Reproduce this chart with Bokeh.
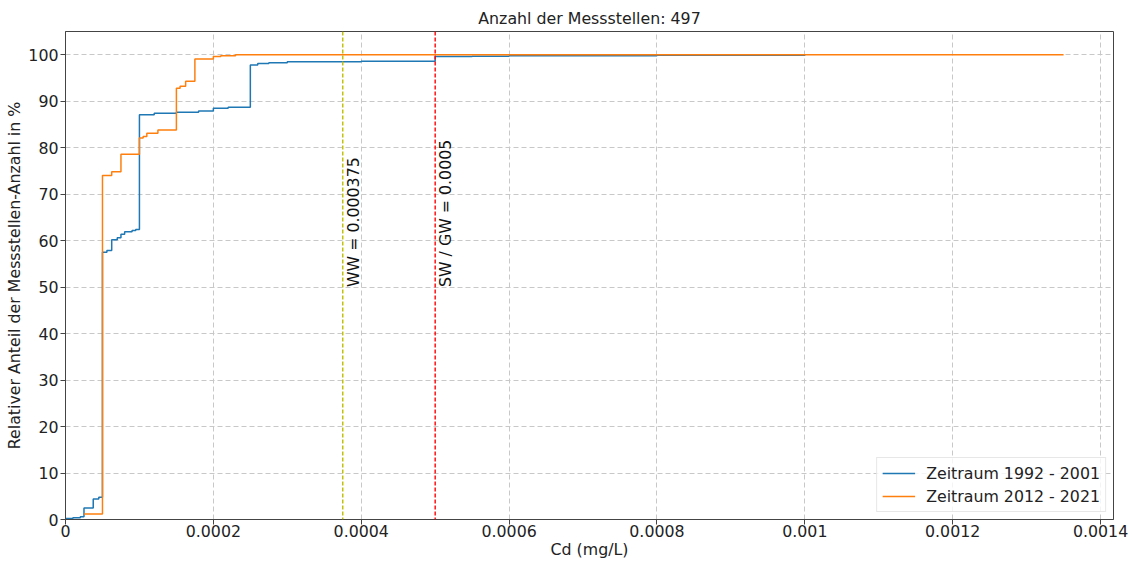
from math import pi
from bokeh.plotting import figure
from bokeh.models import Range1d, FixedTicker, CustomJSTickFormatter, Span, Legend, LegendItem
from bokeh.core.properties import value
from bokeh.embed import file_html
from bokeh.resources import INLINE

# ---- data ----
title_text = "Anzahl der Messstellen: 497"
x_label = "Cd (mg/L)"
y_label = "Relativer Anteil der Messstellen-Anzahl in %"

series1_name = "Zeitraum 1992 - 2001"
series1_x = [0.0, 0.00001, 0.00002, 0.000025, 0.0000375, 0.000045, 0.00005, 0.000056,
             0.0000625, 0.00007, 0.000075, 0.00008, 0.00009, 0.000095, 0.0001, 0.00012,
             0.00015, 0.00018, 0.0002, 0.00022, 0.00025, 0.00026, 0.000275, 0.0003,
             0.0004, 0.0005, 0.00055, 0.0006, 0.0008, 0.001]
series1_y = [0.2, 0.4, 0.6, 2.5, 4.4, 4.8, 57.5, 57.9,
             60.2, 60.6, 61.4, 61.9, 62.2, 62.4, 87.1, 87.4,
             87.6, 87.9, 88.5, 88.7, 97.8, 98.1, 98.3, 98.5,
             98.6, 99.6, 99.7, 99.8, 99.9, 100.0]

series2_name = "Zeitraum 2012 - 2021"
series2_x = [0.000025, 0.00005, 0.0000625, 0.000075, 0.0001, 0.000105, 0.00011,
             0.000125, 0.00015, 0.000155, 0.0001625, 0.000175, 0.0002, 0.00021,
             0.00023, 0.00135]
series2_y = [1.2, 74.0, 74.8, 78.6, 82.1, 82.4, 83.1,
             83.8, 92.8, 93.2, 94.3, 99.1, 99.6, 99.8,
             100.0, 100.0]

ww_value = 0.000375
ww_text = "WW = 0.000375"
gw_value = 0.0005
gw_text = "SW / GW = 0.0005"
label_y = 50

x_ticks = [0, 0.0002, 0.0004, 0.0006, 0.0008, 0.001, 0.0012, 0.0014]
y_ticks = [0, 10, 20, 30, 40, 50, 60, 70, 80, 90, 100]

FONT = "DejaVu Sans"
FS = "15.8px"

p = figure(width=1132, height=562, output_backend="svg", toolbar_location=None,
           x_range=Range1d(0, 0.0014175), y_range=Range1d(0, 105),
           min_border_left=65, min_border_right=19, min_border_top=31, min_border_bottom=43)

p.title.text = title_text
p.title.align = "center"
p.title.text_font = FONT
p.title.text_font_size = FS
p.title.text_font_style = "normal"
p.title.text_color = "#222222"
p.title.standoff = 8

p.outline_line_color = "#444444"
p.outline_line_width = 1
p.background_fill_color = "white"
p.border_fill_color = "white"

for ax in (p.xaxis[0], p.yaxis[0]):
    ax.axis_line_color = "#444444"
    ax.major_tick_line_color = "#444444"
    ax.major_tick_out = 5
    ax.major_tick_in = 0
    ax.minor_tick_line_color = None
    ax.major_label_text_font = FONT
    ax.major_label_text_font_size = FS
    ax.major_label_text_color = "#222222"
    ax.axis_label_text_font = FONT
    ax.axis_label_text_font_size = FS
    ax.axis_label_text_font_style = "normal"
    ax.axis_label_text_color = "#222222"

p.xaxis.axis_label = x_label
p.yaxis.axis_label = y_label
p.xaxis.ticker = FixedTicker(ticks=x_ticks)
p.yaxis.ticker = FixedTicker(ticks=y_ticks)
p.xaxis.formatter = CustomJSTickFormatter(
    code="return tick == 0 ? '0' : tick.toFixed(4).replace(/0+$/, '');")
p.xaxis.major_label_standoff = 0
p.xaxis.axis_label_standoff = 0
p.yaxis.major_label_standoff = 2
p.yaxis.axis_label_standoff = 1

for g in (p.xgrid[0], p.ygrid[0]):
    g.grid_line_color = "#c8c8c8"
    g.grid_line_dash = "5 3"
    g.grid_line_width = 1

r1 = p.step(series1_x, series1_y, mode="after", line_color="#1f77b4", line_width=1.5)
r2 = p.step(series2_x, series2_y, mode="after", line_color="#ff7f0e", line_width=1.5)

p.add_layout(Span(location=ww_value, dimension="height", line_color="#bfbf00",
                  line_dash="4 2", line_width=1.4))
p.add_layout(Span(location=gw_value, dimension="height", line_color="red",
                  line_dash="4 2", line_width=1.4))

p.text(x=[ww_value, gw_value], y=[label_y, label_y], text=[ww_text, gw_text],
       angle=pi / 2, text_align="left", text_baseline="top", x_offset=1,
       text_font=value(FONT), text_font_size=FS, text_color="#111111")

legend = Legend(items=[LegendItem(label=series1_name, renderers=[r1]),
                       LegendItem(label=series2_name, renderers=[r2])],
                location="bottom_right")
legend.label_text_font = FONT
legend.label_text_font_size = FS
legend.label_text_color = "#222222"
legend.glyph_width = 33
legend.glyph_height = 20
legend.label_height = 20
legend.label_standoff = 11
legend.spacing = 3
legend.padding = 5
legend.margin = 7
legend.border_line_color = "#d0d0d0"
legend.border_line_width = 1
legend.background_fill_alpha = 0.8
p.add_layout(legend)

open("out.html", "w").write(file_html(p, INLINE))
